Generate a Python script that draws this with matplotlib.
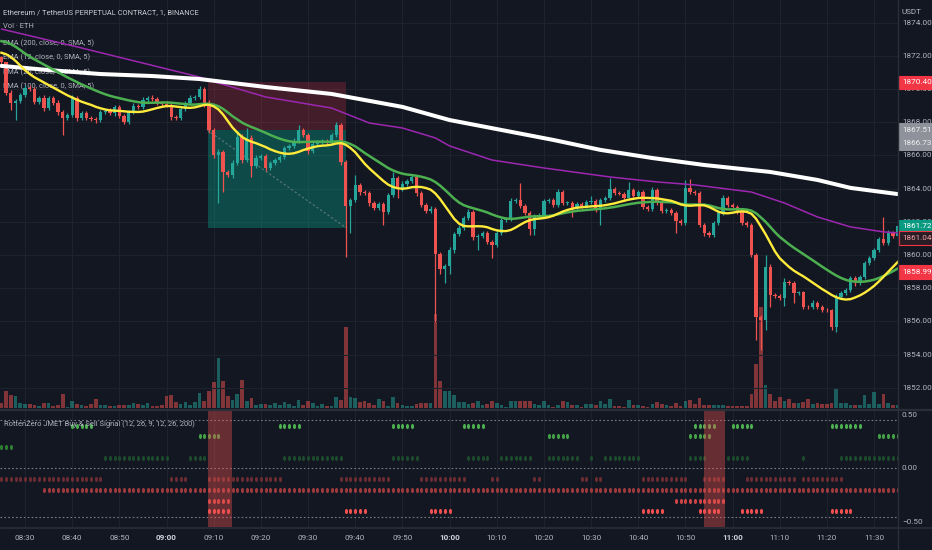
import matplotlib
matplotlib.use('Agg')
import matplotlib.pyplot as plt
from matplotlib import transforms
from matplotlib.patches import Rectangle
from matplotlib.lines import Line2D
from matplotlib.path import Path

# ---------------- data ----------------
first_open = 1871.90
closes = [
    1871.63, 1869.76, 1869.16, 1869.28, 1869.64, 1870.06, 1870.00, 1869.22, 1869.46, 1868.85,
    1869.46, 1869.16, 1868.61, 1868.25, 1868.43, 1869.46, 1868.25, 1868.55, 1868.25, 1868.19,
    1868.13, 1868.61, 1868.67, 1868.55, 1868.91, 1868.37, 1868.01, 1868.61, 1868.97, 1868.91,
    1869.34, 1869.46, 1869.40, 1869.16, 1869.10, 1869.04, 1868.31, 1868.25, 1868.79, 1869.16,
    1869.46, 1869.52, 1870.00, 1869.04, 1867.53, 1866.02, 1866.20, 1865.00, 1864.82, 1865.54,
    1867.11, 1865.72, 1867.05, 1865.36, 1865.84, 1865.96, 1865.24, 1865.54, 1865.72, 1865.90,
    1866.45, 1866.57, 1866.87, 1867.53, 1867.23, 1866.26, 1866.69, 1866.81, 1866.87, 1866.81,
    1867.23, 1867.83, 1865.60, 1862.95, 1863.31, 1864.22, 1863.79, 1863.73, 1863.13, 1862.83,
    1863.07, 1862.59, 1863.61, 1864.64, 1863.98, 1864.28, 1864.46, 1864.70, 1863.73, 1863.01,
    1862.65, 1862.77, 1860.06, 1859.16, 1859.34, 1860.30, 1861.26, 1861.63, 1862.23, 1862.59,
    1861.08, 1861.14, 1861.33, 1860.78, 1860.60, 1861.33, 1862.11, 1862.17, 1863.25, 1863.31,
    1862.95, 1862.53, 1861.57, 1862.29, 1862.41, 1863.25, 1863.31, 1863.01, 1863.79, 1863.13,
    1863.16, 1862.83, 1863.07, 1862.95, 1863.19, 1863.25, 1862.71, 1863.31, 1863.43, 1863.98,
    1863.73, 1863.70, 1863.43, 1863.92, 1863.55, 1863.79, 1862.89, 1862.77, 1863.92, 1863.19,
    1862.65, 1862.71, 1862.53, 1862.05, 1861.93, 1864.04, 1863.79, 1863.73, 1861.81, 1861.33,
    1861.20, 1861.93, 1862.53, 1863.43, 1863.01, 1862.89, 1862.59, 1861.93, 1861.81, 1860.00,
    1856.26, 1856.08, 1859.28, 1857.59, 1857.53, 1857.41, 1858.37, 1858.31, 1857.71, 1857.74,
    1856.87, 1856.84, 1857.11, 1856.87, 1856.69, 1856.66, 1855.66, 1857.47, 1857.71, 1857.89,
    1858.61, 1858.31, 1858.67, 1859.52, 1859.82, 1860.30, 1860.96, 1860.72, 1861.33, 1861.14,
    1861.72]

wick_up = [
    0.1, 0.0, 0.15, 0.1, 0.1, 0.2, 0.15, 0.1, 0.1, 0.15,
    0.1, 0.1, 0.15, 0.1, 0.1, 0.2, 0.1, 0.15, 0.1, 0.1,
    0.1, 0.15, 0.1, 0.2, 0.1, 0.15, 0.1, 0.1, 0.2, 0.1,
    0.15, 0.1, 0.2, 0.1, 0.1, 0.15, 0.1, 0.1, 0.15, 0.1,
    0.15, 0.1, 0.2, 0.1, 0.3, 0.1, 0.2, 0.15, 0.1, 0.2,
    0.3, 0.2, 0.6, 0.15, 0.2, 0.1, 0.15, 0.1, 0.1, 0.15,
    0.1, 0.1, 0.15, 0.3, 0.1, 0.1, 0.15, 0.1, 0.1, 0.1,
    0.1, 0.2, 0.1, 0.1, 0.1, 0.6, 0.1, 0.15, 0.1, 0.1,
    0.15, 0.1, 0.15, 0.35, 0.1, 0.15, 0.1, 0.1, 0.1, 0.1,
    0.1, 0.15, 0.1, 0.1, 0.1, 0.15, 0.1, 0.15, 0.1, 0.2,
    0.1, 0.1, 0.1, 0.1, 0.1, 0.15, 0.1, 0.1, 0.2, 0.1,
    1.0, 0.1, 0.1, 0.15, 0.1, 0.15, 0.1, 0.1, 0.2, 0.1,
    0.1, 0.1, 0.15, 0.1, 0.1, 0.3, 0.1, 0.15, 0.1, 0.65,
    0.1, 0.1, 0.1, 0.5, 0.1, 0.15, 0.1, 0.1, 0.15, 0.1,
    0.1, 0.1, 0.1, 0.1, 0.1, 0.45, 0.55, 0.1, 0.1, 0.1,
    0.1, 0.1, 0.15, 0.2, 0.1, 0.1, 0.1, 0.1, 0.1, 0.1,
    0.1, 0.1, 0.7, 0.15, 0.1, 0.1, 0.25, 0.15, 0.1, 0.1,
    0.1, 0.1, 0.15, 0.1, 0.1, 0.1, 0.1, 0.15, 0.1, 0.1,
    0.15, 0.1, 0.1, 0.1, 0.1, 0.1, 0.15, 1.3, 0.2, 0.1,
    0.1]

wick_dn = [
    0.1, 0.1, 0.42, 1.0, 0.1, 0.1, 0.15, 0.1, 0.1, 0.15,
    0.1, 0.1, 0.15, 1.0, 0.1, 0.1, 0.15, 0.1, 0.1, 0.1,
    0.2, 0.1, 0.1, 0.1, 0.15, 0.1, 0.1, 0.15, 0.1, 0.1,
    0.1, 0.1, 0.1, 0.15, 0.1, 0.1, 0.15, 0.1, 0.1, 0.1,
    0.1, 0.1, 0.1, 0.15, 0.2, 0.2, 2.9, 1.2, 0.15, 0.2,
    0.1, 0.2, 0.1, 0.66, 0.15, 0.1, 0.2, 0.1, 0.1, 0.1,
    0.1, 0.1, 0.1, 0.1, 0.15, 0.15, 0.1, 0.1, 0.1, 0.1,
    0.1, 0.1, 0.2, 3.1, 1.6, 0.1, 0.15, 0.1, 0.2, 0.1,
    0.15, 0.8, 0.1, 0.1, 0.55, 0.1, 0.1, 0.1, 0.15, 0.1,
    0.15, 0.1, 4.1, 0.3, 0.85, 0.5, 0.2, 0.1, 0.1, 0.1,
    0.2, 0.8, 0.1, 0.1, 0.8, 0.1, 0.1, 0.1, 0.1, 0.1,
    0.1, 0.15, 0.35, 0.35, 0.1, 0.1, 0.1, 0.15, 0.1, 0.15,
    0.1, 0.55, 0.1, 0.1, 0.1, 0.1, 0.15, 0.9, 0.1, 0.1,
    0.1, 0.1, 0.1, 0.1, 0.1, 0.1, 0.15, 0.1, 0.1, 0.15,
    0.1, 0.1, 0.1, 0.7, 0.1, 0.1, 0.1, 0.1, 0.15, 0.2,
    0.1, 0.1, 0.1, 0.1, 0.1, 0.1, 0.1, 0.1, 0.1, 0.15,
    1.4, 1.8, 0.6, 0.7, 0.1, 0.1, 0.5, 0.1, 0.6, 0.1,
    0.15, 0.1, 0.1, 0.1, 0.15, 0.1, 0.2, 0.3, 0.1, 0.1,
    0.1, 0.15, 0.1, 0.1, 0.1, 0.1, 0.1, 0.1, 0.1, 0.1,
    0.1]

volume = [
    125, 425, 325, 300, 125, 100, 100, 75, 50, 125,
    125, 50, 75, 350, 25, 175, 100, 75, 50, 100,
    225, 75, 75, 50, 50, 75, 75, 75, 125, 100,
    75, 125, 50, 50, 75, 300, 325, 150, 100, 150,
    75, 150, 375, 175, 425, 650, 1250, 675, 300, 200,
    350, 700, 175, 250, 75, 100, 100, 75, 125, 75,
    150, 100, 50, 200, 75, 175, 125, 50, 100, 50,
    50, 275, 200, 2025, 275, 250, 150, 175, 125, 75,
    225, 175, 50, 275, 125, 75, 50, 50, 100, 125,
    125, 125, 2350, 675, 425, 425, 325, 150, 150, 100,
    125, 175, 75, 100, 175, 125, 75, 25, 175, 175,
    175, 175, 175, 100, 75, 175, 75, 25, 75, 175,
    150, 75, 75, 25, 100, 100, 75, 175, 100, 225,
    50, 50, 25, 200, 75, 75, 50, 25, 100, 150,
    100, 75, 50, 125, 50, 175, 200, 100, 250, 75,
    75, 75, 75, 75, 50, 50, 50, 50, 50, 350,
    1100, 2525, 575, 350, 175, 275, 175, 225, 125, 125,
    150, 225, 100, 125, 100, 100, 125, 500, 125, 125,
    75, 75, 75, 325, 100, 400, 100, 350, 125, 75,
    75]

ema12_seed = 1872.2
ema26_seed = 1872.9

ema200_bar = [0, 10, 21, 32, 42, 56, 70, 85, 95, 106, 117, 127, 138, 149, 163, 173, 180, 190]
ema200_val = [1871.39, 1871.14, 1870.90, 1870.78, 1870.60, 1870.12, 1869.70, 1868.92, 1868.13,
              1867.53, 1866.93, 1866.33, 1865.84, 1865.42, 1865.00, 1864.52, 1864.04, 1863.67]
ema100_bar = [0, 17, 42, 46, 56, 70, 78, 85, 92, 95, 104, 115, 129, 139, 147, 159, 166, 173, 180, 187, 190]
ema100_val = [1873.61, 1872.47, 1870.72, 1870.36, 1869.52, 1868.85, 1867.95, 1867.65, 1867.05, 1866.57,
              1865.72, 1865.24, 1864.70, 1864.40, 1864.22, 1863.79, 1863.13, 1862.29, 1861.69, 1861.39, 1861.33]

time_labels = ['08:30', '08:40', '08:50', '09:00', '09:10', '09:20', '09:30', '09:40', '09:50', '10:00',
               '10:10', '10:20', '10:30', '10:40', '10:50', '11:00', '11:10', '11:20', '11:30']
time_label_bar = [5, 15, 25, 35, 45, 55, 65, 75, 85, 95, 105, 115, 125, 135, 145, 155, 165, 175, 185]
price_ticks = [1852, 1854, 1856, 1858, 1860, 1862, 1864, 1866, 1868, 1870, 1872, 1874]

# position tool (short)
pos_start, pos_end = 43.7, 73.1
pos_stop, pos_entry, pos_target = 1870.40, 1867.51, 1861.63

price_tags = [1870.40, 1867.51, 1866.73, 1861.72, 1861.04, 1858.99]

# signal indicator: runs of bars (inclusive) on each level
sig_levels = [0.4, 0.3, 0.2, 0.1, -0.1, -0.2, -0.3, -0.4]
sig_p40 = [(15, 19), (59, 63), (83, 87), (98, 102), (147, 151), (155, 159), (176, 182)]
sig_p30 = [(42, 46), (116, 120), (146, 150), (186, 190)]
sig_p20 = [(0, 2)]
sig_p10 = [(22, 35), (40, 43), (60, 72), (83, 88), (99, 103), (106, 112), (116, 122), (125, 125),
           (128, 135), (146, 149), (154, 158), (170, 170), (178, 190)]
sig_m10 = [(0, 21), (36, 39), (44, 59), (72, 82), (89, 98), (104, 105), (113, 114), (123, 124),
           (126, 127), (136, 145), (149, 153), (158, 168), (170, 178)]
sig_m20 = [(9, 190)]
sig_m30 = [(44, 48), (143, 153)]
sig_m40 = [(44, 48), (73, 77), (91, 95), (136, 140), (148, 152), (157, 161), (176, 180)]
sig_highlight = [(43.7, 48.8), (149.0, 153.3)]
sig_hlines = [0.45, 0.0, -0.45]
sig_ticks = [0.5, 0.0, -0.5]

# ---------------- style / layout ----------------
W, H = 932, 550
BG = '#131722'
GRID = '#1e222d'
TXT = '#b2b5be'
UP, DN = '#26a69a', '#ef5350'
FS = 5.9
FS_LEG = 5.4

plt.rcParams['font.family'] = ['Roboto', 'DejaVu Sans']

fig = plt.figure(figsize=(W / 100, H / 100), dpi=100)
fig.patch.set_facecolor(BG)


def fx(px):
    return px / W


def fy(py):
    return 1 - py / H


XMIN, XMAX = -0.30, 190.08
main_rect = [0, fy(410), fx(898), 410 / H]
ind_rect = [0, fy(527), fx(898), 117 / H]

axv = fig.add_axes(main_rect)
axv.set_facecolor(BG)
ax = fig.add_axes(main_rect)
ax.set_facecolor('none')
axi = fig.add_axes(ind_rect)
axi.set_facecolor(BG)
for a in (axv, ax, axi):
    a.set_xlim(XMIN, XMAX)
    a.set_xticks([])
    a.set_yticks([])
    for s in a.spines.values():
        s.set_visible(False)
ax.set_ylim(1850.66, 1875.36)
axv.set_ylim(-50, 10200)
axi.set_ylim(-0.547, 0.547)

# grid
for b in time_label_bar:
    axv.axvline(b, color=GRID, lw=0.8, zorder=0)
    axi.axvline(b, color=GRID, lw=0.8, zorder=0)
for p in price_ticks:
    ax.axhline(p, color=GRID, lw=0.8, zorder=0)

# candles
n = len(closes)
xs = list(range(n))
opens = [first_open] + closes[:-1]
cols = [UP if c >= o else DN for o, c in zip(opens, closes)]
bottoms = [min(o, c) for o, c in zip(opens, closes)]
heights = [max(abs(c - o), 0.05) for o, c in zip(opens, closes)]
highs = [max(o, c) + w for o, c, w in zip(opens, closes, wick_up)]
lows = [min(o, c) - w for o, c, w in zip(opens, closes, wick_dn)]

# volume
axv.bar(xs, volume, width=0.78, color=cols, alpha=0.5, zorder=2, linewidth=0)

# position tool
ax.add_patch(Rectangle((pos_start, pos_entry), pos_end - pos_start, pos_stop - pos_entry,
                       facecolor='#f23645', alpha=0.22, lw=0, zorder=1))
ax.add_patch(Rectangle((pos_start, pos_target), pos_end - pos_start, pos_entry - pos_target,
                       facecolor='#089981', alpha=0.40, lw=0, zorder=1))
ax.plot([pos_start, pos_end], [pos_entry, pos_target], color='#9598a1', lw=0.8,
        ls=(0, (2, 2)), alpha=0.6, zorder=1.5)

ax.vlines(xs, lows, highs, colors=cols, lw=0.9, zorder=3)
ax.bar(xs, heights, bottom=bottoms, width=0.7, color=cols, linewidth=0, zorder=3.5)


# moving averages
def ema_sma(vals, period, seed, m=5):
    a = 2 / (period + 1)
    e = seed
    out = []
    for v in vals:
        e += a * (v - e)
        out.append(e)
    padded = [seed] * (m - 1) + out
    return [sum(padded[i:i + m]) / m for i in range(len(out))]


ema12 = ema_sma(closes, 12, ema12_seed)
ema26 = ema_sma(closes, 26, ema26_seed)

ax.plot(ema100_bar, ema100_val, color='#9c27b0', lw=1.1, zorder=5, solid_capstyle='round')
ax.plot(ema200_bar, ema200_val, color='#ffffff', lw=2.9, zorder=5.5, solid_capstyle='round')
ax.plot(xs, ema26, color='#4caf50', lw=1.8, zorder=6)
ax.plot(xs, ema12, color='#ffeb3b', lw=1.7, zorder=6.5)

# legend texts
leg = [('Ethereum / TetherUS PERPETUAL CONTRACT, 1, BINANCE', 13, '#c9ccd4'),
       ('Vol · ETH', 27, TXT),
       ('EMA (200, close, 0, SMA, 5)', 43, TXT),
       ('EMA (12, close, 0, SMA, 5)', 57, TXT),
       ('EMA (26, close, 0, SMA, 5)', 72, TXT),
       ('EMA (100, close, 0, SMA, 5)', 86, TXT)]
for t, py, c in leg:
    ax.text(fx(3), fy(py), t, transform=fig.transFigure, fontsize=FS_LEG, color=c,
            va='center', ha='left', zorder=2, clip_on=False)

# indicator
ell = Path.unit_circle()
ell = Path(ell.vertices * [0.6, 1.0], ell.codes)
level_runs = [sig_p40, sig_p30, sig_p20, sig_p10, sig_m10, sig_m20, sig_m30, sig_m40]
level_cols = ['#4caf50', '#43a047', '#2e7d32', '#1d4a2b', '#6a2c31', '#9e3a3e', '#cf4447', '#f55050']
for h in sig_hlines:
    axi.axhline(h, color='#787b86', lw=0.8, ls=(0, (1.5, 2)), zorder=1)
for lev, runs, c in zip(sig_levels, level_runs, level_cols):
    px = []
    for s, e in runs:
        px.extend(range(s, e + 1))
    axi.scatter(px, [lev] * len(px), s=14, color=c, marker=ell, linewidths=0, zorder=3)
for s, e in sig_highlight:
    axi.axvspan(s, e, color='#ef5350', alpha=0.38, lw=0, zorder=4)
axi.text(fx(4), fy(424), 'RottenZero JMET Buy & Sell Signal (12, 26, 9, 12, 26, 200)',
         transform=fig.transFigure, fontsize=FS_LEG, color=TXT, va='center', ha='left', zorder=6)

# right price scale
tr_main = transforms.blended_transform_factory(fig.transFigure, ax.transData)
for p in price_ticks:
    ax.text(fx(902), p, f'{p:.2f}', transform=tr_main, fontsize=FS, color=TXT,
            va='center', ha='left', clip_on=False, zorder=10)
tag_style = [('#f23645', '#f23645', '#ffffff'),
             ('#8f929b', '#8f929b', '#f0f0f0'),
             ('#8f929b', '#8f929b', '#f0f0f0'),
             ('#089981', '#089981', '#ffffff'),
             ('#2a1c24', '#f23645', '#f7a1a8'),
             ('#f23645', '#f23645', '#ffffff')]
box_h = 0.82
for p, (fc, ec, tc) in zip(price_tags, tag_style):
    r = Rectangle((fx(898.5), p - box_h / 2), 1 - fx(898.5), box_h, transform=tr_main,
                  facecolor=fc, edgecolor=ec, lw=0.8, zorder=11, clip_on=False)
    ax.add_artist(r)
    ax.text(fx(902), p, f'{p:.2f}', transform=tr_main, fontsize=FS, color=tc,
            va='center', ha='left', clip_on=False, zorder=12)
fig.text(fx(902), fy(12), 'USDT', fontsize=FS, color=TXT, va='center', ha='left')

tr_ind = transforms.blended_transform_factory(fig.transFigure, axi.transData)
for v in sig_ticks:
    lab = f'{v:.2f}'.replace('-', '\u2212')
    axi.text(fx(902), v, lab, transform=tr_ind, fontsize=FS, color=TXT,
             va='center', ha='left', clip_on=False, zorder=10)

# time axis
tr_time = transforms.blended_transform_factory(ax.transData, fig.transFigure)
for b, lab in zip(time_label_bar, time_labels):
    bold = lab.endswith(':00')
    ax.text(b, fy(538), lab, transform=tr_time, fontsize=FS,
            color='#d1d4dc' if bold else TXT, fontweight='bold' if bold else 'normal',
            va='center', ha='center', clip_on=False, zorder=10)

# separators
for l in [Line2D([fx(898), fx(898)], [0, 1], transform=fig.transFigure, color='#2a2e39', lw=1.0),
          Line2D([0, 1], [fy(410), fy(410)], transform=fig.transFigure, color='#2a2e39', lw=1.6),
          Line2D([0, 1], [fy(527.5), fy(527.5)], transform=fig.transFigure, color='#2a2e39', lw=1.2)]:
    fig.add_artist(l)

fig.savefig('out.png', dpi=100, facecolor=BG)
